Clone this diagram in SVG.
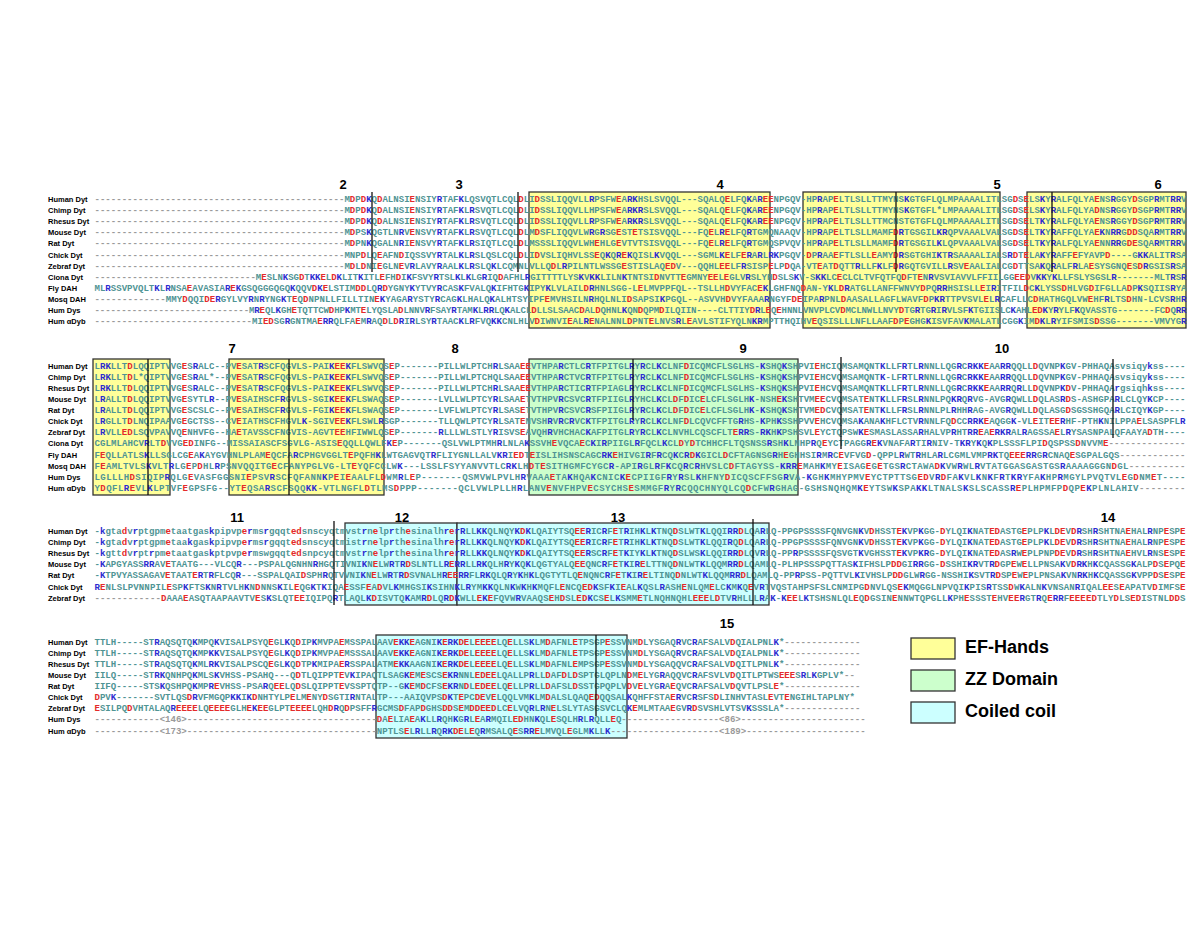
<svg xmlns="http://www.w3.org/2000/svg" width="1200" height="927" viewBox="0 0 1200 927">
<style>
.l{font-family:"Liberation Sans",Arial,sans-serif;font-weight:bold;font-size:7.5px;fill:#000}
.s{font-family:"Liberation Mono","Courier New",monospace;font-weight:bold;font-size:9.05px;fill:#4f9494}
tspan{fill:#e42a2a}
.b{fill:#2b2bd0}
.g{fill:#9a9a9a}
.n{font-family:"Liberation Sans",Arial,sans-serif;font-weight:bold;font-size:13px;text-anchor:middle;fill:#000}
.ef{fill:#ffff99;stroke:#333;stroke-width:1.3}
.zz{fill:#ccffcc;stroke:#333;stroke-width:1.3}
.cc{fill:#ccffff;stroke:#333;stroke-width:1.3}
.dv{stroke:#111;stroke-width:1.3}
.lg{font-family:"Liberation Sans",Arial,sans-serif;font-weight:bold;font-size:18px;fill:#000}
</style>
<rect width="1200" height="927" fill="#fff"/>
<g id="domains">
<rect class="ef" x="529" y="192" width="241" height="136"/>
<rect class="ef" x="803" y="192" width="197" height="136"/>
<rect class="ef" x="1027" y="192" width="159" height="136"/>
<rect class="ef" x="93" y="359" width="77" height="136"/>
<rect class="ef" x="229" y="359" width="155" height="136"/>
<rect class="zz" x="529" y="359" width="269" height="136"/>
<rect class="cc" x="345" y="523" width="112" height="82"/>
<rect class="cc" x="457" y="523" width="312" height="82"/>
<rect class="cc" x="376" y="635" width="251" height="103"/>
</g>
<g id="block1">
<text class="n" x="343" y="188.5">2</text><text class="n" x="459" y="188.5">3</text><text class="n" x="720" y="188.5">4</text><text class="n" x="997" y="188.5">5</text><text class="n" x="1158" y="188.5">6</text>
<text class="l" x="48" y="202">Human Dyt</text>
<text class="l" x="48" y="213.1">Chimp Dyt</text>
<text class="l" x="48" y="224.2">Rhesus Dyt</text>
<text class="l" x="48" y="235.3">Mouse Dyt</text>
<text class="l" x="48" y="246.4">Rat Dyt</text>
<text class="l" x="48" y="257.5">Chick Dyt</text>
<text class="l" x="48" y="268.6">Zebraf Dyt</text>
<text class="l" x="48" y="279.7">Ciona Dyt</text>
<text class="l" x="48" y="290.8">Fly DAH</text>
<text class="l" x="48" y="301.9">Mosq DAH</text>
<text class="l" x="48" y="313">Hum Dys</text>
<text class="l" x="48" y="324.1">Hum αDyb</text>
<text class="s" x="94.5" y="202" textLength="1092" lengthAdjust="spacing"><tspan class="g">----------------------------------------------</tspan>M<tspan>D</tspan>P<tspan>D</tspan><tspan class="b">K</tspan>Q<tspan>D</tspan>ALNSI<tspan>E</tspan>NSIY<tspan class="b">R</tspan>TAF<tspan class="b">K</tspan>LQSVQTLCQL<tspan>D</tspan>LI<tspan>D</tspan>SSLIQQVLL<tspan class="b">R</tspan>PSFW<tspan>E</tspan>A<tspan class="b">RK</tspan>HSLSVQQL---SQALQ<tspan>E</tspan>LFQ<tspan class="b">K</tspan>A<tspan class="b">R</tspan><tspan>EE</tspan>NPGQV-HP<tspan class="b">R</tspan>AP<tspan>E</tspan>LTLSLLTTMYNS<tspan class="b">K</tspan>GTGFLQLMPAAAALITLSG<tspan>D</tspan>S<tspan>E</tspan>LS<tspan class="b">K</tspan>Y<tspan class="b">R</tspan>ALFQLYA<tspan>E</tspan>NS<tspan class="b">R</tspan>GGY<tspan>D</tspan>SGP<tspan class="b">R</tspan>MT<tspan class="b">RR</tspan>V</text>
<text class="s" x="94.5" y="213.1" textLength="1092" lengthAdjust="spacing"><tspan class="g">----------------------------------------------</tspan>M<tspan>D</tspan>P<tspan>D</tspan><tspan class="b">K</tspan>Q<tspan>D</tspan>ALNSI<tspan>E</tspan>NSIY<tspan class="b">R</tspan>TAF<tspan class="b">K</tspan>L<tspan class="b">R</tspan>SVQTLCQL<tspan>D</tspan>LI<tspan>D</tspan>SSLIQQVLLHPSFW<tspan>E</tspan>A<tspan class="b">RKR</tspan>SLSVQQL---SQALQ<tspan>E</tspan>LFQ<tspan class="b">K</tspan>A<tspan class="b">R</tspan><tspan>EE</tspan>NPGQV-HP<tspan class="b">R</tspan>AP<tspan>E</tspan>LTLSLLTTMYNS<tspan class="b">K</tspan>GTGFL*LMPAAAALITLSG<tspan>D</tspan>S<tspan>E</tspan>LS<tspan class="b">K</tspan>Y<tspan class="b">R</tspan>ALFQLYA<tspan>D</tspan>NS<tspan class="b">R</tspan>GGY<tspan>D</tspan>SGP<tspan class="b">R</tspan>MT<tspan class="b">RR</tspan>V</text>
<text class="s" x="94.5" y="224.2" textLength="1092" lengthAdjust="spacing"><tspan class="g">----------------------------------------------</tspan>M<tspan>D</tspan>P<tspan>D</tspan><tspan class="b">K</tspan>Q<tspan>D</tspan>ALNSI<tspan>E</tspan>NSIY<tspan class="b">R</tspan>TAF<tspan class="b">K</tspan>L<tspan class="b">R</tspan>SVQTLCQL<tspan>D</tspan>LI<tspan>D</tspan>SSLIQQVLL<tspan class="b">R</tspan>PSFW<tspan>E</tspan>A<tspan class="b">RKR</tspan>SLSVQQL---SQALQ<tspan>E</tspan>LFQ<tspan class="b">K</tspan>A<tspan class="b">R</tspan><tspan>EE</tspan>NPGQV-HP<tspan class="b">R</tspan>AP<tspan>E</tspan>LTLSLLTTMCNSTGTGFLQLMPAAAALITLSG<tspan>D</tspan>S<tspan>E</tspan>LT<tspan class="b">K</tspan>Y<tspan class="b">R</tspan>ALFQLYA<tspan>E</tspan>NS<tspan class="b">R</tspan>GGY<tspan>D</tspan>SGP<tspan class="b">R</tspan>MT<tspan class="b">RR</tspan>V</text>
<text class="s" x="94.5" y="235.3" textLength="1092" lengthAdjust="spacing"><tspan class="g">----------------------------------------------</tspan>M<tspan>D</tspan>PS<tspan class="b">K</tspan>QGTLN<tspan class="b">R</tspan>V<tspan>E</tspan>NSVY<tspan class="b">R</tspan>TAF<tspan class="b">K</tspan>L<tspan class="b">R</tspan>SVQTLCQL<tspan>D</tspan>LM<tspan>D</tspan>SFLIQQVLW<tspan class="b">R</tspan>G<tspan class="b">R</tspan>SG<tspan>E</tspan>ST<tspan>E</tspan>TSISVQQL---FQ<tspan>E</tspan>L<tspan class="b">R</tspan><tspan>E</tspan>LFQ<tspan class="b">R</tspan>TGMQNAAQV-HP<tspan class="b">R</tspan>AP<tspan>E</tspan>LTLSLLMAMF<tspan>D</tspan><tspan class="b">R</tspan>TGSGIL<tspan class="b">KR</tspan>QPVAAALVALSG<tspan>D</tspan>S<tspan>E</tspan>LT<tspan class="b">K</tspan>Y<tspan class="b">R</tspan>AFFQLYA<tspan>E</tspan><tspan class="b">K</tspan>N<tspan class="b">RR</tspan>G<tspan>DD</tspan>SQA<tspan class="b">R</tspan>MT<tspan class="b">RR</tspan>V</text>
<text class="s" x="94.5" y="246.4" textLength="1092" lengthAdjust="spacing"><tspan class="g">----------------------------------------------</tspan>M<tspan>D</tspan>PN<tspan class="b">K</tspan>QGALN<tspan class="b">R</tspan>I<tspan>E</tspan>NSVY<tspan class="b">R</tspan>TAF<tspan class="b">K</tspan>L<tspan class="b">R</tspan>SIQTLCQL<tspan>D</tspan>LMSSSLIQQVLWH<tspan>E</tspan>HLG<tspan>E</tspan>VTVTSISVQQL---FQ<tspan>E</tspan>L<tspan class="b">R</tspan><tspan>E</tspan>LFQ<tspan class="b">R</tspan>TGMQSPVQV-HP<tspan class="b">R</tspan>AP<tspan>E</tspan>LTLSLLMAMF<tspan>D</tspan><tspan class="b">R</tspan>TGSGIL<tspan class="b">K</tspan>LQPVAAALVALSG<tspan>D</tspan>S<tspan>E</tspan>LT<tspan class="b">K</tspan>Y<tspan class="b">R</tspan>ALFQLYA<tspan>E</tspan>NN<tspan class="b">RR</tspan>G<tspan>DE</tspan>SQA<tspan class="b">R</tspan>MT<tspan class="b">RR</tspan>V</text>
<text class="s" x="94.5" y="257.5" textLength="1092" lengthAdjust="spacing"><tspan class="g">----------------------------------------------</tspan>MNP<tspan>D</tspan>LQ<tspan>E</tspan>AFN<tspan>D</tspan>IQSSVY<tspan class="b">R</tspan>TAL<tspan class="b">K</tspan>L<tspan class="b">R</tspan>SLQSLCQL<tspan>D</tspan>LI<tspan>D</tspan>VSLIQHVLSS<tspan>E</tspan>Q<tspan class="b">K</tspan>Q<tspan class="b">R</tspan><tspan>E</tspan><tspan class="b">K</tspan>QISL<tspan class="b">K</tspan>VQQL---SGML<tspan class="b">K</tspan><tspan>E</tspan>LF<tspan>E</tspan><tspan class="b">R</tspan>A<tspan class="b">R</tspan>L<tspan class="b">RK</tspan>PGQV-<tspan>D</tspan>P<tspan class="b">R</tspan>AA<tspan>E</tspan>FTLSLL<tspan>E</tspan>AMY<tspan>D</tspan><tspan class="b">R</tspan>SGTGHI<tspan class="b">K</tspan>T<tspan class="b">R</tspan>SAAAALIALS<tspan class="b">R</tspan><tspan>D</tspan>T<tspan>E</tspan>LA<tspan class="b">K</tspan>Y<tspan class="b">R</tspan>AFF<tspan>E</tspan>FYAVP<tspan>D</tspan>----G<tspan class="b">KK</tspan>ALIT<tspan class="b">R</tspan>SA</text>
<text class="s" x="94.5" y="268.6" textLength="1092" lengthAdjust="spacing"><tspan class="g">----------------------------------------------</tspan>M<tspan>D</tspan>L<tspan>D</tspan>NI<tspan>E</tspan>GLN<tspan>E</tspan>V<tspan class="b">R</tspan>LAVY<tspan class="b">R</tspan>AAL<tspan class="b">K</tspan>L<tspan class="b">R</tspan>SLQ<tspan class="b">K</tspan>LCQMNLVLLQ<tspan>D</tspan>L<tspan class="b">R</tspan>PILNTLWSSG<tspan>E</tspan>STISLAQ<tspan>ED</tspan>V---QQHL<tspan>EE</tspan>LF<tspan class="b">R</tspan>SISP<tspan>E</tspan>LP<tspan>D</tspan>QA-VT<tspan>E</tspan>AT<tspan>D</tspan>QTT<tspan class="b">R</tspan>LLF<tspan class="b">K</tspan>LF<tspan>D</tspan><tspan class="b">R</tspan>GQTGVILL<tspan class="b">R</tspan>SV<tspan>E</tspan>AALIALCG<tspan>D</tspan>TTSA<tspan class="b">K</tspan>Q<tspan class="b">R</tspan>ALF<tspan class="b">R</tspan>LA<tspan>E</tspan>SYSGNQ<tspan>E</tspan>S<tspan>D</tspan><tspan class="b">R</tspan>GSIS<tspan class="b">R</tspan>SA</text>
<text class="s" x="94.5" y="279.7" textLength="1092" lengthAdjust="spacing"><tspan class="g">------------------------------</tspan>M<tspan>E</tspan>SLN<tspan class="b">K</tspan>SG<tspan>D</tspan>T<tspan class="b">KK</tspan><tspan>E</tspan>L<tspan>D</tspan><tspan class="b">K</tspan>LIT<tspan class="b">K</tspan>ITL<tspan>E</tspan>FH<tspan>D</tspan>I<tspan class="b">K</tspan>FSVY<tspan class="b">R</tspan>TSL<tspan class="b">K</tspan>L<tspan class="b">K</tspan>LG<tspan class="b">R</tspan>IQ<tspan>D</tspan>AFHL<tspan class="b">R</tspan>GITTTTLYS<tspan class="b">K</tspan>V<tspan class="b">KK</tspan>LILN<tspan class="b">K</tspan>TNTSI<tspan>D</tspan>NVTT<tspan>E</tspan>GMNY<tspan>EE</tspan>L<tspan>E</tspan>GLV<tspan class="b">R</tspan>SLYH<tspan>D</tspan>SLS<tspan class="b">K</tspan>V-S<tspan class="b">KK</tspan>LC<tspan>E</tspan>CLCLTVFQTFQ<tspan>D</tspan>FT<tspan>E</tspan>N<tspan class="b">R</tspan>VSVIAVVLFFIILGG<tspan>EED</tspan>V<tspan class="b">KK</tspan>Y<tspan class="b">K</tspan>LLFSLYSGSL<tspan class="b">R</tspan>-------MLT<tspan class="b">R</tspan>S<tspan class="b">R</tspan></text>
<text class="s" x="94.5" y="290.8" textLength="1092" lengthAdjust="spacing">ML<tspan class="b">R</tspan>SSVPVQLT<tspan class="b">K</tspan>L<tspan class="b">R</tspan>NSA<tspan>E</tspan>AVASIA<tspan class="b">R</tspan><tspan>E</tspan><tspan class="b">K</tspan>GSQGGGQGQ<tspan class="b">K</tspan>QQV<tspan>D</tspan><tspan class="b">K</tspan><tspan>E</tspan>LSTIM<tspan>DD</tspan>LQ<tspan class="b">R</tspan><tspan>D</tspan>YGNY<tspan class="b">K</tspan>YTVY<tspan class="b">R</tspan>CAS<tspan class="b">K</tspan>FVALQ<tspan class="b">K</tspan>IFHTG<tspan class="b">K</tspan>IPY<tspan class="b">K</tspan>LVLAIL<tspan>D</tspan><tspan class="b">R</tspan>HNLSGG-L<tspan>E</tspan>LMVPPFQL--TSLLH<tspan>D</tspan>VYFAC<tspan>E</tspan><tspan class="b">K</tspan>LGHFNQ<tspan>D</tspan>AN-Y<tspan class="b">K</tspan>L<tspan>D</tspan><tspan class="b">R</tspan>ATGLLANFFWNVY<tspan>D</tspan>PQ<tspan class="b">RR</tspan>HSISLL<tspan>E</tspan>I<tspan class="b">R</tspan>ITFIL<tspan>D</tspan>C<tspan class="b">K</tspan>LYSS<tspan>D</tspan>HLVG<tspan>D</tspan>IFGLLA<tspan>D</tspan>P<tspan class="b">K</tspan>SQIIS<tspan class="b">R</tspan>YA</text>
<text class="s" x="94.5" y="301.9" textLength="1092" lengthAdjust="spacing"><tspan class="g">-------------</tspan>MMY<tspan>D</tspan>QQI<tspan>DE</tspan><tspan class="b">R</tspan>GYLVY<tspan class="b">R</tspan>N<tspan class="b">R</tspan>YNG<tspan class="b">K</tspan>T<tspan>E</tspan>Q<tspan>D</tspan>NPNLLFILLTIN<tspan>E</tspan><tspan class="b">K</tspan>YAGA<tspan class="b">R</tspan>YSTY<tspan class="b">R</tspan>CAG<tspan class="b">K</tspan>LHALQ<tspan class="b">K</tspan>ALHTSYIPF<tspan>E</tspan>MVHSILN<tspan class="b">R</tspan>HQLNLI<tspan>D</tspan>SAPSI<tspan class="b">K</tspan>PGQL--ASVVH<tspan>D</tspan>VYFAAA<tspan class="b">R</tspan>NGYF<tspan>DE</tspan>IPA<tspan class="b">R</tspan>PNL<tspan>D</tspan>AASALLAGFLWAVF<tspan>D</tspan>P<tspan class="b">KR</tspan>TTPVSVL<tspan>E</tspan>L<tspan class="b">R</tspan>CAFLLC<tspan>D</tspan>HATHGQLVW<tspan>E</tspan>HF<tspan class="b">R</tspan>LTS<tspan>D</tspan>HN-LCVS<tspan class="b">R</tspan>H<tspan class="b">R</tspan></text>
<text class="s" x="94.5" y="313" textLength="1092" lengthAdjust="spacing"><tspan class="g">-----------------------------</tspan>M<tspan class="b">R</tspan><tspan>E</tspan>QL<tspan class="b">K</tspan>GH<tspan>E</tspan>TQTTCW<tspan>D</tspan>HP<tspan class="b">K</tspan>MT<tspan>E</tspan>LYQSLA<tspan>D</tspan>LNNV<tspan class="b">R</tspan>FSAY<tspan class="b">R</tspan>TAM<tspan class="b">K</tspan>L<tspan class="b">RR</tspan>LQ<tspan class="b">K</tspan>ALCL<tspan>D</tspan>LLSLSAAC<tspan>D</tspan>AL<tspan>D</tspan>QHNL<tspan class="b">K</tspan>QN<tspan>D</tspan>QPM<tspan>D</tspan>ILQIIN----CLTTIY<tspan>D</tspan><tspan class="b">R</tspan>L<tspan>E</tspan>Q<tspan>E</tspan>HNNLVNVPLCV<tspan>D</tspan>MCLNWLLNVY<tspan>D</tspan>TG<tspan class="b">R</tspan>TG<tspan class="b">R</tspan>I<tspan class="b">R</tspan>VLSF<tspan class="b">K</tspan>TGIISLC<tspan class="b">K</tspan>AHL<tspan>ED</tspan><tspan class="b">K</tspan>Y<tspan class="b">R</tspan>YLF<tspan class="b">K</tspan>QVASSTG-------FC<tspan>D</tspan>Q<tspan class="b">RR</tspan></text>
<text class="s" x="94.5" y="324.1" textLength="1092" lengthAdjust="spacing"><tspan class="g">-----------------------------</tspan>MI<tspan>ED</tspan>SG<tspan class="b">R</tspan>GNTMA<tspan>E</tspan><tspan class="b">RR</tspan>QLFA<tspan>E</tspan>M<tspan class="b">R</tspan>AQ<tspan>D</tspan>L<tspan>D</tspan><tspan class="b">R</tspan>I<tspan class="b">R</tspan>LSY<tspan class="b">R</tspan>TAAC<tspan class="b">K</tspan>L<tspan class="b">R</tspan>FVQ<tspan class="b">KK</tspan>CNLHLV<tspan>D</tspan>IWNVI<tspan>E</tspan>AL<tspan class="b">R</tspan><tspan>E</tspan>NALNNL<tspan>D</tspan>PNT<tspan>E</tspan>LNVS<tspan class="b">R</tspan>L<tspan>E</tspan>AVLSTIFYQLN<tspan class="b">KR</tspan>MPTTHQIHV<tspan>E</tspan>QSISLLLNFLLAAF<tspan>D</tspan>P<tspan>E</tspan>GHG<tspan class="b">K</tspan>ISVFAV<tspan class="b">K</tspan>MALATLCGG<tspan class="b">K</tspan>IM<tspan>D</tspan><tspan class="b">K</tspan>L<tspan class="b">R</tspan>YIFSMIS<tspan>D</tspan>SSG-------VMVYG<tspan class="b">R</tspan></text>
</g>
<g id="block2">
<text class="n" x="232" y="352.5">7</text><text class="n" x="455" y="352.5">8</text><text class="n" x="743" y="352.5">9</text><text class="n" x="1002" y="352.5">10</text>
<text class="l" x="48" y="368.7">Human Dyt</text>
<text class="l" x="48" y="379.8">Chimp Dyt</text>
<text class="l" x="48" y="390.9">Rhesus Dyt</text>
<text class="l" x="48" y="402">Mouse Dyt</text>
<text class="l" x="48" y="413.1">Rat Dyt</text>
<text class="l" x="48" y="424.2">Chick Dyt</text>
<text class="l" x="48" y="435.3">Zebraf Dyt</text>
<text class="l" x="48" y="446.4">Ciona Dyt</text>
<text class="l" x="48" y="457.5">Fly DAH</text>
<text class="l" x="48" y="468.6">Mosq DAH</text>
<text class="l" x="48" y="479.7">Hum Dys</text>
<text class="l" x="48" y="490.8">Hum αDyb</text>
<text class="s" x="94.5" y="368.7" textLength="1091" lengthAdjust="spacing">L<tspan class="b">RK</tspan>LLT<tspan>D</tspan>LQQIPTVVG<tspan>E</tspan>S<tspan class="b">R</tspan>ALC--PV<tspan>E</tspan>SAT<tspan class="b">R</tspan>SCFQGVLS-PAI<tspan class="b">K</tspan><tspan>EE</tspan><tspan class="b">K</tspan>FLSWVQS<tspan>E</tspan>P-------PILLWLPTCH<tspan class="b">R</tspan>LSAA<tspan>EE</tspan>VTHPA<tspan class="b">R</tspan>CTLC<tspan class="b">R</tspan>TFPITGL<tspan class="b">R</tspan>Y<tspan class="b">R</tspan>CL<tspan class="b">K</tspan>CLNF<tspan>D</tspan>ICQMCFLSGLHS-<tspan class="b">K</tspan>SHQ<tspan class="b">K</tspan>SHPVI<tspan>E</tspan>HCIQMSAMQNT<tspan class="b">K</tspan>LLF<tspan class="b">R</tspan>TL<tspan class="b">R</tspan>NNLLQG<tspan class="b">R</tspan>C<tspan class="b">RKK</tspan><tspan>E</tspan>AA<tspan class="b">RR</tspan>QQLL<tspan>D</tspan>QVNP<tspan class="b">K</tspan>GV-PHHAQAsvsiqy<tspan class="b">k</tspan>ss----</text>
<text class="s" x="94.5" y="379.8" textLength="1091" lengthAdjust="spacing">L<tspan class="b">RK</tspan>LLT<tspan>D</tspan>L*QIPTVVG<tspan>E</tspan>S<tspan class="b">R</tspan>AL*--PV<tspan>E</tspan>SAT<tspan class="b">R</tspan>SCFQGVLS-PAI<tspan class="b">K</tspan><tspan>EE</tspan><tspan class="b">K</tspan>FLSWVQS<tspan>E</tspan>P-------PILLWLPTCHQLSAA<tspan>EE</tspan>VTHPA<tspan class="b">R</tspan>CTVC<tspan class="b">R</tspan>TFPITGL<tspan class="b">R</tspan>Y<tspan class="b">R</tspan>CL<tspan class="b">K</tspan>CLNF<tspan>D</tspan>ICQMCFLSGLHS-<tspan class="b">K</tspan>SHQ<tspan class="b">K</tspan>SHPVI<tspan>E</tspan>HCVQMSAMQNT<tspan class="b">K</tspan>-LF<tspan class="b">R</tspan>TL<tspan class="b">R</tspan>NNLLQG<tspan class="b">R</tspan>C<tspan class="b">RKK</tspan><tspan>E</tspan>AA<tspan class="b">RR</tspan>QQLL<tspan>D</tspan>QVNP<tspan class="b">K</tspan>GV-PHHAQAsvsiqy<tspan class="b">k</tspan>ss----</text>
<text class="s" x="94.5" y="390.9" textLength="1091" lengthAdjust="spacing">L<tspan class="b">RK</tspan>LLT<tspan>D</tspan>LQQIPTVVG<tspan>E</tspan>S<tspan class="b">R</tspan>ALC--PV<tspan>E</tspan>SAT<tspan class="b">R</tspan>SCFQGVLS-PAI<tspan class="b">K</tspan><tspan>EE</tspan><tspan class="b">K</tspan>FLSWVQS<tspan>E</tspan>P-------PILLWLPTCH<tspan class="b">R</tspan>LSAA<tspan>EE</tspan>VTHPA<tspan class="b">R</tspan>CTIC<tspan class="b">R</tspan>TFPIAGL<tspan class="b">R</tspan>Y<tspan class="b">R</tspan>CL<tspan class="b">K</tspan>CLNF<tspan>D</tspan>ICQMCFLSGLHS-<tspan class="b">K</tspan>SHQ<tspan class="b">K</tspan>SHPVI<tspan>E</tspan>HCVQMSAMQNT<tspan class="b">K</tspan>LLF<tspan class="b">R</tspan>TL<tspan class="b">R</tspan>NNLLQG<tspan class="b">R</tspan>C<tspan class="b">RKK</tspan><tspan>E</tspan>AA<tspan class="b">RR</tspan>Q<tspan class="b">R</tspan>LL<tspan>D</tspan>QVNP<tspan class="b">K</tspan><tspan>D</tspan>V-PHHAQA<tspan class="b">r</tspan>gsiqh<tspan class="b">k</tspan>ss----</text>
<text class="s" x="94.5" y="402" textLength="1091" lengthAdjust="spacing">L<tspan class="b">R</tspan>ALLT<tspan>D</tspan>LQQIPTVVG<tspan>E</tspan>SYTL<tspan class="b">R</tspan>--PV<tspan>E</tspan>SAIHSCF<tspan class="b">R</tspan>GVLS-SGI<tspan class="b">K</tspan><tspan>EE</tspan><tspan class="b">K</tspan>FLSWAQS<tspan>E</tspan>P-------LVLLWLPTCY<tspan class="b">R</tspan>LSAA<tspan>E</tspan>TVTHPV<tspan class="b">R</tspan>CSVC<tspan class="b">R</tspan>TFPIIGL<tspan class="b">R</tspan>YHCL<tspan class="b">K</tspan>CL<tspan>D</tspan>F<tspan>D</tspan>IC<tspan>E</tspan>LCFLSGLH<tspan class="b">K</tspan>-NSH<tspan>E</tspan><tspan class="b">K</tspan>SHTVM<tspan>EE</tspan>CVQMSAT<tspan>E</tspan>NT<tspan class="b">K</tspan>LLF<tspan class="b">R</tspan>SL<tspan class="b">R</tspan>NNLPQ<tspan class="b">KR</tspan>Q<tspan class="b">R</tspan>VG-AVG<tspan class="b">R</tspan>QWLL<tspan>D</tspan>QLAS<tspan class="b">R</tspan><tspan>D</tspan>S-ASHGPA<tspan class="b">R</tspan>LCLQY<tspan class="b">K</tspan>CP----</text>
<text class="s" x="94.5" y="413.1" textLength="1091" lengthAdjust="spacing">L<tspan class="b">R</tspan>ALLT<tspan>D</tspan>LQQIPTVVG<tspan>E</tspan>SCSLC--PV<tspan>E</tspan>SAIHSCF<tspan class="b">R</tspan>GVLS-FGI<tspan class="b">K</tspan><tspan>EE</tspan><tspan class="b">K</tspan>FLSWAQS<tspan>E</tspan>P-------LVFLWLPTCY<tspan class="b">R</tspan>LSAS<tspan>E</tspan>TVTHPV<tspan class="b">R</tspan>CSVC<tspan class="b">R</tspan>SFPIIGL<tspan class="b">R</tspan>Y<tspan class="b">R</tspan>CL<tspan class="b">K</tspan>CL<tspan>D</tspan>F<tspan>D</tspan>IC<tspan>E</tspan>LCFLSGLH<tspan class="b">K</tspan>-<tspan class="b">K</tspan>SHQ<tspan class="b">K</tspan>SHTVM<tspan>ED</tspan>CVQMSAT<tspan>E</tspan>NT<tspan class="b">K</tspan>LLF<tspan class="b">R</tspan>SL<tspan class="b">R</tspan>NNLPL<tspan class="b">R</tspan>HH<tspan class="b">R</tspan>AG-AVG<tspan class="b">R</tspan>QWLL<tspan>D</tspan>QLASG<tspan>D</tspan>SGSSHGQA<tspan class="b">R</tspan>LCIQY<tspan class="b">K</tspan>GP----</text>
<text class="s" x="94.5" y="424.2" textLength="1091" lengthAdjust="spacing">L<tspan class="b">R</tspan>GLLT<tspan>D</tspan>LNQIPAAVG<tspan>E</tspan>GCTSS--CV<tspan>E</tspan>IATHSCFHGVL<tspan class="b">K</tspan>-SGIV<tspan>EE</tspan><tspan class="b">K</tspan>FLSWL<tspan class="b">R</tspan>SGP-------TLLQWLPTCY<tspan class="b">R</tspan>LSAT<tspan>E</tspan>NVSH<tspan class="b">R</tspan>V<tspan class="b">R</tspan>C<tspan class="b">R</tspan>VC<tspan class="b">K</tspan>TFPITGL<tspan class="b">R</tspan>Y<tspan class="b">R</tspan>CL<tspan class="b">K</tspan>CLNF<tspan>D</tspan>LCQVCFFTG<tspan class="b">R</tspan>HS-<tspan class="b">K</tspan>PH<tspan class="b">K</tspan>SSHPVV<tspan>E</tspan>HCVQMSA<tspan class="b">K</tspan>ANA<tspan class="b">K</tspan>HFLCTV<tspan class="b">R</tspan>NNLFQ<tspan>D</tspan>CC<tspan class="b">RRK</tspan><tspan>E</tspan>AQGG<tspan class="b">K</tspan>-VL<tspan>E</tspan>IT<tspan>EE</tspan><tspan class="b">R</tspan>HF-PTH<tspan class="b">K</tspan>NILPPA<tspan>E</tspan>LSASPFL<tspan class="b">R</tspan></text>
<text class="s" x="94.5" y="435.3" textLength="1091" lengthAdjust="spacing">L<tspan class="b">R</tspan>VLL<tspan>ED</tspan>LSQVPAVVQ<tspan>E</tspan>NHVFG--HA<tspan>E</tspan>TAVSSCFNGVIS-AGVT<tspan>EE</tspan>HFIWWLQS<tspan>E</tspan>P-------<tspan class="b">R</tspan>LLLWLSTLY<tspan class="b">R</tspan>ISVS<tspan>E</tspan>AVQH<tspan class="b">R</tspan>VHCHAC<tspan class="b">K</tspan>AFPITGL<tspan class="b">R</tspan>Y<tspan class="b">R</tspan>CL<tspan class="b">K</tspan>CLNVHLCQSCFLT<tspan>E</tspan><tspan class="b">RR</tspan>S-<tspan class="b">RK</tspan>H<tspan class="b">K</tspan>PSHSVL<tspan>E</tspan>YCTQPSW<tspan class="b">K</tspan><tspan>E</tspan>SMASLASSA<tspan class="b">R</tspan>HALVP<tspan class="b">R</tspan>HT<tspan class="b">RR</tspan><tspan>E</tspan>A<tspan>E</tspan><tspan class="b">RKR</tspan>AL<tspan class="b">R</tspan>AGSSA<tspan>E</tspan>L<tspan class="b">R</tspan>YSASNPALQFAAYA<tspan>D</tspan>TH----</text>
<text class="s" x="94.5" y="446.4" textLength="1091" lengthAdjust="spacing">CGLMLAHCV<tspan class="b">R</tspan>LT<tspan>D</tspan>VVG<tspan>ED</tspan>INFG--MISSAIASCFSGVLG-ASIS<tspan>E</tspan>QQLLQWLF<tspan class="b">K</tspan><tspan>E</tspan>P-------QSLVWLPTMH<tspan class="b">R</tspan>LNLA<tspan class="b">K</tspan>SSVH<tspan>E</tspan>VQCA<tspan>E</tspan>C<tspan class="b">K</tspan>I<tspan class="b">R</tspan>PIIGL<tspan class="b">R</tspan>FQCL<tspan class="b">K</tspan>CL<tspan>D</tspan>Y<tspan>D</tspan>TCHHCFLTQSNSS<tspan class="b">R</tspan>SH<tspan class="b">K</tspan>LNHP<tspan class="b">R</tspan>Q<tspan>E</tspan>YCTPAGG<tspan class="b">R</tspan><tspan>E</tspan><tspan class="b">K</tspan>VNAFA<tspan class="b">R</tspan>TI<tspan class="b">R</tspan>NIV-T<tspan class="b">KR</tspan>Y<tspan class="b">K</tspan>Q<tspan class="b">K</tspan>PLSSSFLPI<tspan>D</tspan>QSPSS<tspan>D</tspan>NVVM<tspan>E</tspan><tspan class="g">--------------</tspan></text>
<text class="s" x="94.5" y="457.5" textLength="1091" lengthAdjust="spacing">F<tspan>E</tspan>QLLATLS<tspan class="b">K</tspan>LLSGLCG<tspan>E</tspan>A<tspan class="b">K</tspan>AYGVHNLPLAM<tspan>E</tspan>QCFA<tspan class="b">R</tspan>CPHGVGGLT<tspan>E</tspan>PQFH<tspan class="b">K</tspan>LWTGAGVQT<tspan class="b">R</tspan>FLIYGNLLALV<tspan class="b">KR</tspan>I<tspan>ED</tspan>T<tspan>E</tspan>ISLIHSNSCAGC<tspan class="b">RK</tspan><tspan>E</tspan>HIVGI<tspan class="b">R</tspan>F<tspan class="b">R</tspan>CQ<tspan class="b">K</tspan>C<tspan class="b">R</tspan><tspan>D</tspan><tspan class="b">K</tspan>GICL<tspan>D</tspan>CFTAGNSG<tspan class="b">R</tspan>H<tspan>E</tspan>GHHSI<tspan class="b">R</tspan>M<tspan class="b">R</tspan>C<tspan>E</tspan>VFVG<tspan>D</tspan>-QPPL<tspan class="b">R</tspan>WT<tspan class="b">R</tspan>HLA<tspan class="b">R</tspan>LCGMLVMP<tspan class="b">RK</tspan>TQ<tspan>EEE</tspan><tspan class="b">RR</tspan>G<tspan class="b">R</tspan>CNAQ<tspan>E</tspan>SGPALGQS<tspan class="g">------------</tspan></text>
<text class="s" x="94.5" y="468.6" textLength="1091" lengthAdjust="spacing">F<tspan>E</tspan>AMLTVLS<tspan class="b">K</tspan>VLT<tspan class="b">R</tspan>LG<tspan>E</tspan>P<tspan>D</tspan>HL<tspan class="b">R</tspan>PSNVQQITG<tspan>E</tspan>CFANYPGLVG-LT<tspan>E</tspan>YQFCCLW<tspan class="b">K</tspan>---LSSLFSYYANVVTLC<tspan class="b">RK</tspan>LH<tspan>D</tspan>T<tspan>E</tspan>SITHGMFCYGC<tspan class="b">R</tspan>-API<tspan class="b">R</tspan>GL<tspan class="b">R</tspan>F<tspan class="b">K</tspan>CQ<tspan class="b">R</tspan>C<tspan class="b">R</tspan>HVSLC<tspan>D</tspan>FTAGYSS-<tspan class="b">KRR</tspan><tspan>E</tspan>MAH<tspan class="b">K</tspan>MY<tspan>E</tspan>ISAG<tspan>E</tspan>G<tspan>E</tspan>TGS<tspan class="b">R</tspan>CTAWA<tspan>D</tspan><tspan class="b">K</tspan>VW<tspan class="b">R</tspan>WL<tspan class="b">R</tspan>VTATGGASGASTGS<tspan class="b">R</tspan>AAAAGGGN<tspan>D</tspan>GL<tspan class="g">----------</tspan></text>
<text class="s" x="94.5" y="479.7" textLength="1091" lengthAdjust="spacing">LGLLLH<tspan>D</tspan>SIQIP<tspan class="b">R</tspan>QLG<tspan>E</tspan>VASFGGSNI<tspan>E</tspan>PSV<tspan class="b">R</tspan>SCFQFANN<tspan class="b">K</tspan>P<tspan>E</tspan>I<tspan>E</tspan>AALFL<tspan>D</tspan>WM<tspan class="b">R</tspan>L<tspan>E</tspan>P-------QSMVWLPVLH<tspan class="b">R</tspan>VAAA<tspan>E</tspan>TA<tspan class="b">K</tspan>HQA<tspan class="b">K</tspan>CNIC<tspan class="b">K</tspan><tspan>E</tspan>CPIIGF<tspan class="b">R</tspan>Y<tspan class="b">R</tspan>SL<tspan class="b">K</tspan>HFNY<tspan>D</tspan>ICQSCFFSG<tspan class="b">R</tspan>VA-<tspan class="b">K</tspan>GH<tspan class="b">K</tspan>MHYPMV<tspan>E</tspan>YCTPTTSG<tspan>ED</tspan>V<tspan class="b">R</tspan><tspan>D</tspan>FA<tspan class="b">K</tspan>VL<tspan class="b">K</tspan>N<tspan class="b">K</tspan>F<tspan class="b">R</tspan>T<tspan class="b">KR</tspan>YFA<tspan class="b">K</tspan>HP<tspan class="b">R</tspan>MGYLPVQTVL<tspan>E</tspan>G<tspan>D</tspan>NM<tspan>E</tspan>T----</text>
<text class="s" x="94.5" y="490.8" textLength="1091" lengthAdjust="spacing">Y<tspan>D</tspan>QFL<tspan class="b">R</tspan><tspan>E</tspan>VL<tspan class="b">K</tspan>LPTVF<tspan>E</tspan>GPSFG--YT<tspan>E</tspan>QSA<tspan class="b">R</tspan>SCFSQQ<tspan class="b">KK</tspan>-VTLNGFL<tspan>D</tspan>TLMS<tspan>D</tspan>PPP-------QCLVWLPLLH<tspan class="b">R</tspan>LANV<tspan>E</tspan>NVFHPV<tspan>E</tspan>CSYCHS<tspan>E</tspan>SMMGF<tspan class="b">R</tspan>Y<tspan class="b">R</tspan>CQQCHNYQLCQ<tspan>D</tspan>CFW<tspan class="b">R</tspan>GHAG-GSHSNQHQM<tspan class="b">K</tspan><tspan>E</tspan>YTSW<tspan class="b">K</tspan>SPA<tspan class="b">KK</tspan>LTNALS<tspan class="b">K</tspan>SLSCASS<tspan class="b">R</tspan><tspan>E</tspan>PLHPMFP<tspan>D</tspan>QP<tspan>E</tspan><tspan class="b">K</tspan>PLNLAHIV<tspan class="g">--------</tspan></text>
</g>
<g id="block3">
<text class="n" x="237" y="521.5">11</text><text class="n" x="402" y="521.5">12</text><text class="n" x="618" y="521.5">13</text><text class="n" x="1108" y="521.5">14</text>
<text class="l" x="48" y="534">Human Dyt</text>
<text class="l" x="48" y="545.1">Chimp Dyt</text>
<text class="l" x="48" y="556.2">Rhesus Dyt</text>
<text class="l" x="48" y="567.3">Mouse Dyt</text>
<text class="l" x="48" y="578.4">Rat Dyt</text>
<text class="l" x="48" y="589.5">Chick Dyt</text>
<text class="l" x="48" y="600.6">Zebraf Dyt</text>
<text class="s" x="94.5" y="534" textLength="1091" lengthAdjust="spacing">-<tspan class="b">k</tspan>gta<tspan>d</tspan>v<tspan class="b">r</tspan>ptgpm<tspan>e</tspan>taatgas<tspan class="b">k</tspan>pipvp<tspan>e</tspan><tspan class="b">r</tspan>ms<tspan class="b">r</tspan>gqqt<tspan>ed</tspan>snscyqtmvst<tspan class="b">r</tspan>n<tspan>e</tspan>lp<tspan class="b">r</tspan>th<tspan>e</tspan>sinalh<tspan class="b">r</tspan><tspan>e</tspan><tspan class="b">rR</tspan>LL<tspan class="b">KK</tspan>QLNQY<tspan class="b">K</tspan><tspan>D</tspan><tspan class="b">K</tspan>LQAIYTSQ<tspan>EE</tspan><tspan class="b">R</tspan>IC<tspan class="b">R</tspan>F<tspan>E</tspan>T<tspan class="b">R</tspan>IH<tspan class="b">K</tspan>L<tspan class="b">K</tspan>TNQ<tspan>D</tspan>SLWT<tspan class="b">K</tspan>LQQI<tspan class="b">RR</tspan><tspan>D</tspan>LQA<tspan class="b">R</tspan>LQ-PPGPSSSSFQNVGN<tspan class="b">K</tspan>V<tspan>D</tspan>HSST<tspan>E</tspan><tspan class="b">K</tspan>VP<tspan class="b">K</tspan>GG-<tspan>D</tspan>YLQI<tspan class="b">K</tspan>NAT<tspan>ED</tspan>ASTG<tspan>E</tspan>PLP<tspan class="b">K</tspan>L<tspan>DE</tspan>V<tspan>D</tspan><tspan class="b">R</tspan>SH<tspan class="b">R</tspan>SHTNA<tspan>E</tspan>HAL<tspan class="b">R</tspan>NP<tspan>E</tspan>SP<tspan>E</tspan></text>
<text class="s" x="94.5" y="545.1" textLength="1091" lengthAdjust="spacing">-<tspan class="b">k</tspan>gta<tspan>d</tspan>v<tspan class="b">r</tspan>ptgpm<tspan>e</tspan>taa<tspan class="b">k</tspan>gas<tspan class="b">k</tspan>pipvp<tspan>e</tspan><tspan class="b">r</tspan>ms<tspan class="b">r</tspan>gqqt<tspan>ed</tspan>snscyqtmist<tspan class="b">r</tspan>n<tspan>e</tspan>lp<tspan class="b">r</tspan>th<tspan>e</tspan>sinalh<tspan class="b">r</tspan><tspan>e</tspan><tspan class="b">rR</tspan>LL<tspan class="b">KK</tspan>QLNQY<tspan class="b">K</tspan><tspan>D</tspan><tspan class="b">K</tspan>LQAIYTSQ<tspan>EE</tspan><tspan class="b">R</tspan>IC<tspan class="b">R</tspan>F<tspan>E</tspan>T<tspan class="b">R</tspan>IH<tspan class="b">K</tspan>L<tspan class="b">K</tspan>TNQ<tspan>D</tspan>SLWT<tspan class="b">K</tspan>LQQI<tspan class="b">R</tspan>Q<tspan>D</tspan>LQA<tspan class="b">R</tspan>LQ-PPGPSSSSFQNVGN<tspan class="b">K</tspan>V<tspan>D</tspan>HSST<tspan>E</tspan><tspan class="b">K</tspan>VP<tspan class="b">K</tspan>GG-<tspan>D</tspan>YLQI<tspan class="b">K</tspan>NAT<tspan>ED</tspan>ASTG<tspan>E</tspan>PLP<tspan class="b">K</tspan>L<tspan>DE</tspan>V<tspan>D</tspan><tspan class="b">R</tspan>SH<tspan class="b">R</tspan>SHTNA<tspan>E</tspan>HAL<tspan class="b">R</tspan>NP<tspan>E</tspan>SP<tspan>E</tspan></text>
<text class="s" x="94.5" y="556.2" textLength="1091" lengthAdjust="spacing">-<tspan class="b">k</tspan>gtt<tspan>d</tspan>v<tspan class="b">r</tspan>pt<tspan class="b">r</tspan>pm<tspan>e</tspan>taatgas<tspan class="b">k</tspan>ptpvp<tspan>e</tspan><tspan class="b">r</tspan>mswgqqt<tspan>ed</tspan>snpcyqtmvst<tspan class="b">r</tspan>n<tspan>e</tspan>lp<tspan class="b">r</tspan>th<tspan>e</tspan>sinalh<tspan class="b">r</tspan><tspan>e</tspan><tspan class="b">rR</tspan>LL<tspan class="b">KK</tspan>QLNQY<tspan class="b">K</tspan><tspan>D</tspan><tspan class="b">K</tspan>LQAIYTSQ<tspan>EE</tspan><tspan class="b">R</tspan>SC<tspan class="b">R</tspan>F<tspan>E</tspan>T<tspan class="b">K</tspan>IY<tspan class="b">K</tspan>L<tspan class="b">K</tspan>TNQ<tspan>D</tspan>SLWS<tspan class="b">K</tspan>LQQI<tspan class="b">RR</tspan><tspan>D</tspan>LQV<tspan class="b">R</tspan>LQ-PP<tspan class="b">R</tspan>PSSSSFQSVGT<tspan class="b">K</tspan>VGHSST<tspan>E</tspan><tspan class="b">K</tspan>VP<tspan class="b">KR</tspan>G-<tspan>D</tspan>YLQI<tspan class="b">K</tspan>NAT<tspan>ED</tspan>AS<tspan class="b">R</tspan>W<tspan>E</tspan>PLPNP<tspan>DE</tspan>V<tspan>D</tspan><tspan class="b">R</tspan>SH<tspan class="b">R</tspan>SHTNA<tspan>E</tspan>HVL<tspan class="b">R</tspan>NS<tspan>E</tspan>SP<tspan>E</tspan></text>
<text class="s" x="94.5" y="567.3" textLength="1091" lengthAdjust="spacing">-<tspan class="b">K</tspan>APGYASS<tspan class="b">RR</tspan>AV<tspan>E</tspan>TAATG---VLCQ<tspan class="b">R</tspan>---PSPALQGNHN<tspan class="b">R</tspan>HGQTIVNI<tspan class="b">K</tspan>N<tspan>E</tspan>LW<tspan class="b">R</tspan>T<tspan class="b">R</tspan><tspan>D</tspan>SLNTLL<tspan class="b">R</tspan><tspan>E</tspan><tspan class="b">RR</tspan>LL<tspan class="b">RK</tspan>QLH<tspan class="b">R</tspan>Y<tspan class="b">K</tspan>Q<tspan class="b">K</tspan>LQGTYALQ<tspan>EE</tspan>QNC<tspan class="b">R</tspan>F<tspan>E</tspan>T<tspan class="b">K</tspan>I<tspan class="b">R</tspan><tspan>E</tspan>LTTNQ<tspan>D</tspan>NLWT<tspan class="b">K</tspan>LQQM<tspan class="b">RR</tspan><tspan>D</tspan>LQAMLQ-PLHPSSSPQTTAS<tspan class="b">K</tspan>IFHSLP<tspan>DD</tspan>GI<tspan class="b">RR</tspan>GG-<tspan>D</tspan>SSHI<tspan class="b">KR</tspan>VT<tspan class="b">R</tspan><tspan>D</tspan>GP<tspan>E</tspan>W<tspan>E</tspan>LLPNSA<tspan class="b">K</tspan>V<tspan>D</tspan><tspan class="b">RK</tspan>H<tspan class="b">K</tspan>CQASSG<tspan class="b">K</tspan>ALP<tspan>D</tspan>S<tspan>E</tspan>PQ<tspan>E</tspan></text>
<text class="s" x="94.5" y="578.4" textLength="1091" lengthAdjust="spacing">-<tspan class="b">K</tspan>TPVYASSAGAV<tspan>E</tspan>TAAT<tspan>E</tspan><tspan class="b">R</tspan>T<tspan class="b">R</tspan>FLCQ<tspan class="b">R</tspan>---SSPALQAI<tspan>D</tspan>SPH<tspan class="b">R</tspan>QTVVNI<tspan class="b">K</tspan>N<tspan>E</tspan>LW<tspan class="b">R</tspan>T<tspan class="b">R</tspan><tspan>D</tspan>SVNALH<tspan class="b">R</tspan><tspan>EE</tspan><tspan class="b">RR</tspan>FL<tspan class="b">RK</tspan>QLQ<tspan class="b">R</tspan>Y<tspan class="b">K</tspan>H<tspan class="b">K</tspan>LQGTYTLQ<tspan>E</tspan>NQNC<tspan class="b">R</tspan>F<tspan>E</tspan>T<tspan class="b">K</tspan>I<tspan class="b">R</tspan><tspan>E</tspan>LTINQ<tspan>D</tspan>NLWT<tspan class="b">K</tspan>LQQM<tspan class="b">RR</tspan><tspan>D</tspan>LQAMLQ-PP<tspan class="b">R</tspan>PSS-PQTTVL<tspan class="b">K</tspan>IVHSLP<tspan>DD</tspan>GLW<tspan class="b">R</tspan>GG-NSSHI<tspan class="b">K</tspan>SVT<tspan class="b">R</tspan><tspan>D</tspan>SP<tspan>E</tspan>W<tspan>E</tspan>PLPNSA<tspan class="b">K</tspan>VN<tspan class="b">RK</tspan>H<tspan class="b">K</tspan>CQASSG<tspan class="b">K</tspan>VPP<tspan>D</tspan>S<tspan>E</tspan>SP<tspan>E</tspan></text>
<text class="s" x="94.5" y="589.5" textLength="1091" lengthAdjust="spacing"><tspan class="b">R</tspan><tspan>E</tspan>NLSLPVNNPIL<tspan>E</tspan>SP<tspan class="b">K</tspan>FTS<tspan class="b">K</tspan>N<tspan class="b">R</tspan>TVLH<tspan class="b">K</tspan>N<tspan>D</tspan>NNS<tspan class="b">K</tspan>IL<tspan>E</tspan>QG<tspan class="b">K</tspan>T<tspan class="b">K</tspan>IQA<tspan>E</tspan>SSF<tspan>E</tspan>A<tspan>D</tspan>VL<tspan class="b">K</tspan>MHGSI<tspan class="b">K</tspan>SIHN<tspan class="b">K</tspan>L<tspan class="b">R</tspan>YM<tspan class="b">KK</tspan>QLN<tspan class="b">K</tspan>W<tspan class="b">K</tspan>H<tspan class="b">K</tspan>MQFL<tspan>E</tspan>NCQ<tspan>ED</tspan><tspan class="b">K</tspan>SF<tspan class="b">K</tspan>I<tspan>E</tspan>AL<tspan class="b">K</tspan>QSL<tspan class="b">R</tspan>ASH<tspan>E</tspan>NLQM<tspan>E</tspan>LC<tspan class="b">K</tspan>M<tspan class="b">K</tspan>Q<tspan>E</tspan>V<tspan class="b">R</tspan>TVQSTAHPSFSLCNMIPG<tspan>D</tspan>NVLQS<tspan>E</tspan><tspan class="b">K</tspan>MQGGLNPVQI<tspan class="b">K</tspan>PIS<tspan class="b">R</tspan>TSS<tspan>D</tspan>W<tspan class="b">K</tspan>ALN<tspan class="b">K</tspan>VNSAN<tspan class="b">R</tspan>IQAL<tspan>EE</tspan>S<tspan>E</tspan>APATV<tspan>D</tspan>IMFS<tspan>E</tspan></text>
<text class="s" x="94.5" y="600.6" textLength="1091" lengthAdjust="spacing"><tspan class="g">------------</tspan><tspan>D</tspan>AAA<tspan>E</tspan>ASQTAAPAAVTV<tspan>E</tspan>S<tspan class="b">K</tspan>SLQT<tspan>EE</tspan>IQIPQ<tspan class="b">R</tspan>TLAQL<tspan class="b">K</tspan><tspan>D</tspan>ISVTQ<tspan class="b">K</tspan>AM<tspan class="b">R</tspan><tspan>D</tspan>LQ<tspan class="b">R</tspan><tspan>D</tspan><tspan class="b">K</tspan>WLL<tspan>E</tspan><tspan class="b">K</tspan><tspan>E</tspan>FQVW<tspan class="b">R</tspan>VAAQS<tspan>E</tspan>H<tspan>D</tspan>SL<tspan>ED</tspan><tspan class="b">K</tspan>CS<tspan>E</tspan>L<tspan class="b">K</tspan>SMM<tspan>E</tspan>TLNQHNQHL<tspan>EEE</tspan>L<tspan>D</tspan>TV<tspan class="b">R</tspan>HLLL<tspan class="b">R</tspan>A<tspan class="b">K</tspan>-<tspan class="b">K</tspan><tspan>EE</tspan>L<tspan class="b">K</tspan>TSHSNLQL<tspan>E</tspan>Q<tspan>D</tspan>GSIN<tspan>E</tspan>NNWTQPGLL<tspan class="b">K</tspan>PH<tspan>E</tspan>SSST<tspan>E</tspan>HV<tspan>EE</tspan><tspan class="b">R</tspan>GT<tspan class="b">R</tspan>Q<tspan>E</tspan><tspan class="b">RR</tspan>F<tspan>EEEED</tspan>TLY<tspan>D</tspan>LS<tspan>ED</tspan>ISTNL<tspan>DD</tspan>S</text>
</g>
<g id="block4">
<text class="n" x="727" y="627.5">15</text>
<text class="l" x="48" y="644.7">Human Dyt</text>
<text class="l" x="48" y="655.8">Chimp Dyt</text>
<text class="l" x="48" y="666.9">Rhesus Dyt</text>
<text class="l" x="48" y="678">Mouse Dyt</text>
<text class="l" x="48" y="689.1">Rat Dyt</text>
<text class="l" x="48" y="700.2">Chick Dyt</text>
<text class="l" x="48" y="711.3">Zebraf Dyt</text>
<text class="l" x="48" y="722.4">Hum Dys</text>
<text class="l" x="48" y="733.5">Hum αDyb</text>
<text class="s" x="94.5" y="644.7">TTLH-----ST<tspan class="b">R</tspan>AQSQTQ<tspan class="b">K</tspan>MPQ<tspan class="b">K</tspan>VISALPSYQ<tspan>E</tspan>GL<tspan class="b">K</tspan>Q<tspan>D</tspan>IP<tspan class="b">K</tspan>MVPA<tspan>E</tspan>MSSPALAAV<tspan>E</tspan><tspan class="b">KK</tspan><tspan>E</tspan>AGNI<tspan class="b">K</tspan><tspan>E</tspan><tspan class="b">RK</tspan><tspan>DE</tspan>L<tspan>EEEE</tspan>LQ<tspan>E</tspan>LLS<tspan class="b">K</tspan>LM<tspan>D</tspan>AFNL<tspan>E</tspan>TPSGP<tspan>E</tspan>SSVNM<tspan>D</tspan>LYSGAQ<tspan class="b">R</tspan>VC<tspan class="b">R</tspan>AFSALV<tspan>D</tspan>QIALPNL<tspan class="b">K</tspan>*<tspan class="g">--------------</tspan></text>
<text class="s" x="94.5" y="655.8">TTLH-----ST<tspan class="b">R</tspan>AQSQTQ<tspan class="b">K</tspan>MP<tspan class="b">KK</tspan>VISALPSYQ<tspan>E</tspan>GL<tspan class="b">K</tspan>Q<tspan>D</tspan>IP<tspan class="b">K</tspan>MVPA<tspan>E</tspan>MSSSALAAV<tspan>E</tspan><tspan class="b">KK</tspan><tspan>E</tspan>AGNI<tspan class="b">K</tspan><tspan>E</tspan><tspan class="b">RK</tspan><tspan>DE</tspan>L<tspan>EEEE</tspan>LQ<tspan>E</tspan>LLS<tspan class="b">K</tspan>LM<tspan>D</tspan>AFNL<tspan>E</tspan>TPSGP<tspan>E</tspan>SSVNM<tspan>D</tspan>LYSGAQ<tspan class="b">R</tspan>VC<tspan class="b">R</tspan>AFSALV<tspan>D</tspan>QIALPNL<tspan class="b">K</tspan>*<tspan class="g">--------------</tspan></text>
<text class="s" x="94.5" y="666.9">TTLH-----ST<tspan class="b">R</tspan>AQSQTQ<tspan class="b">K</tspan>ML<tspan class="b">RK</tspan>VISALPSCQ<tspan>E</tspan>GL<tspan class="b">K</tspan>Q<tspan>D</tspan>TP<tspan class="b">K</tspan>MIPA<tspan>E</tspan><tspan class="b">R</tspan>SSPALATM<tspan>E</tspan><tspan class="b">KK</tspan>AAGNI<tspan class="b">K</tspan><tspan>E</tspan><tspan class="b">RK</tspan><tspan>DE</tspan>L<tspan>EEEE</tspan>LQ<tspan>E</tspan>LLS<tspan class="b">K</tspan>LM<tspan>D</tspan>AFNL<tspan>E</tspan>MPSGP<tspan>E</tspan>SSVNM<tspan>D</tspan>LYSGAQQVC<tspan class="b">R</tspan>AFSALV<tspan>D</tspan>QITLPNL<tspan class="b">K</tspan>*<tspan class="g">--------------</tspan></text>
<text class="s" x="94.5" y="678">IILQ-----ST<tspan class="b">RK</tspan>QNHPQ<tspan class="b">K</tspan>MLS<tspan class="b">K</tspan>VHSS-PSAHQ---Q<tspan>D</tspan>TLQIPPT<tspan>E</tspan>V<tspan class="b">K</tspan>IPAQTLSAG<tspan class="b">K</tspan><tspan>E</tspan>M<tspan>E</tspan>SCS<tspan>E</tspan><tspan class="b">KR</tspan>NNL<tspan>EDEE</tspan>LQALLP<tspan class="b">R</tspan>LL<tspan>D</tspan>AF<tspan>D</tspan>L<tspan>D</tspan>SPTGLQPLN<tspan>D</tspan>M<tspan>E</tspan>LYG<tspan class="b">R</tspan>AQQVC<tspan class="b">R</tspan>AFSVLV<tspan>D</tspan>QITLPTWS<tspan>EEE</tspan>S<tspan class="b">R</tspan>L<tspan class="b">K</tspan>GPLV*<tspan class="g">--</tspan></text>
<text class="s" x="94.5" y="689.1">IIFQ-----STS<tspan class="b">K</tspan>QSHPQ<tspan class="b">K</tspan>MP<tspan class="b">R</tspan><tspan>E</tspan>VHSS-PSA<tspan class="b">R</tspan>Q<tspan>EE</tspan>LQ<tspan>D</tspan>SLQIPPT<tspan>E</tspan>VSSPTQTP--G<tspan class="b">K</tspan><tspan>E</tspan>M<tspan>D</tspan>CFS<tspan>E</tspan><tspan class="b">KR</tspan>N<tspan>D</tspan>L<tspan>EDEE</tspan>LQ<tspan>E</tspan>LLP<tspan class="b">R</tspan>LL<tspan>D</tspan>AFSL<tspan>D</tspan>SSTGPQPLV<tspan>D</tspan>V<tspan>E</tspan>LYG<tspan class="b">R</tspan>A<tspan>E</tspan>QVC<tspan class="b">R</tspan>AFSALV<tspan>D</tspan>QVTLPSL<tspan>E</tspan>*<tspan class="g">--------------</tspan></text>
<text class="s" x="94.5" y="700.2"><tspan>D</tspan>PV<tspan class="b">K</tspan>-------SVTLQS<tspan>D</tspan><tspan class="b">R</tspan>VFMGQP<tspan class="b">KK</tspan>I<tspan class="b">K</tspan><tspan>D</tspan>NHTYLP<tspan>E</tspan>LM<tspan>E</tspan>NY<tspan>D</tspan>SGTI<tspan class="b">R</tspan>NTALTP---AAIQVPS<tspan>D</tspan><tspan class="b">K</tspan>T<tspan>E</tspan>PC<tspan>DE</tspan>V<tspan>E</tspan>LQQLVM<tspan class="b">K</tspan>LM<tspan>D</tspan>ALSLQAQ<tspan>ED</tspan>QQSAL<tspan class="b">K</tspan>QHFFSTA<tspan>E</tspan><tspan class="b">R</tspan>VC<tspan class="b">R</tspan>SFS<tspan>D</tspan>LINHVTASL<tspan>E</tspan>VT<tspan>E</tspan>NGIHLTAPLNY*</text>
<text class="s" x="94.5" y="711.3"><tspan>E</tspan>SILPQ<tspan>D</tspan>VHTALAQ<tspan class="b">R</tspan><tspan>EEEE</tspan>LQ<tspan>EEEE</tspan>GLH<tspan>E</tspan><tspan class="b">K</tspan><tspan>EE</tspan>GLPT<tspan>EEEE</tspan>LQH<tspan>D</tspan><tspan class="b">R</tspan>Q<tspan>D</tspan>PSFF<tspan class="b">R</tspan>GCMS<tspan>D</tspan>FAP<tspan>D</tspan>GHS<tspan>DD</tspan>S<tspan>E</tspan>M<tspan>DDEED</tspan>LC<tspan>E</tspan>LVQ<tspan class="b">R</tspan>L<tspan class="b">R</tspan>N<tspan>E</tspan>LSLYTASGSVCLQ<tspan class="b">K</tspan><tspan>E</tspan>MLMTAA<tspan>E</tspan>GV<tspan class="b">R</tspan><tspan>D</tspan>SVSHLVTSV<tspan class="b">K</tspan>SSSLA*<tspan class="g">--------------</tspan></text>
<text class="s" x="94.5" y="722.4"><tspan class="g">------------&lt;146&gt;-----------------------------------</tspan><tspan>D</tspan>A<tspan>E</tspan>LIA<tspan>E</tspan>A<tspan class="b">K</tspan>LL<tspan class="b">R</tspan>QH<tspan class="b">K</tspan>G<tspan class="b">R</tspan>L<tspan>E</tspan>A<tspan class="b">R</tspan>MQIL<tspan>ED</tspan>HN<tspan class="b">K</tspan>QL<tspan>E</tspan>SQLH<tspan class="b">R</tspan>L<tspan class="b">R</tspan>QLL<tspan>E</tspan>Q<tspan class="g">------------------&lt;86&gt;-----------------------</tspan></text>
<text class="s" x="94.5" y="733.5"><tspan class="g">------------&lt;173&gt;-----------------------------------</tspan>NPTLS<tspan>E</tspan>L<tspan class="b">R</tspan>LL<tspan class="b">R</tspan>Q<tspan class="b">RK</tspan><tspan>DE</tspan>L<tspan>E</tspan>Q<tspan class="b">R</tspan>MSALQ<tspan>E</tspan>S<tspan class="b">RR</tspan><tspan>E</tspan>LMVQL<tspan>E</tspan>GLM<tspan class="b">K</tspan>LL<tspan class="b">K</tspan><tspan class="g">--------------------&lt;189&gt;----------------------</tspan></text>
</g>
<g id="dividers">
<line class="dv" x1="372" y1="192" x2="372" y2="272"/>
<line class="dv" x1="518" y1="192" x2="518" y2="272"/>
<line class="dv" x1="896" y1="192" x2="896" y2="272"/>
<line class="dv" x1="1052" y1="192" x2="1052" y2="272"/>
<line class="dv" x1="148" y1="359" x2="148" y2="495"/>
<line class="dv" x1="289" y1="359" x2="289" y2="495"/>
<line class="dv" x1="633" y1="359" x2="633" y2="420"/>
<line class="dv" x1="841" y1="357" x2="841" y2="449"/>
<line class="dv" x1="1113" y1="359" x2="1113" y2="438"/>
<line class="dv" x1="334" y1="521" x2="334" y2="605"/>
<line class="dv" x1="753" y1="519" x2="753" y2="605"/>
<line class="dv" x1="596" y1="635" x2="596" y2="716"/>
</g>
<g id="legend">
<rect class="ef" x="911" y="638" width="44" height="21"/>
<rect class="zz" x="911" y="670" width="44" height="21"/>
<rect class="cc" x="911" y="702" width="44" height="21"/>
<text class="lg" x="965" y="653">EF-Hands</text>
<text class="lg" x="965" y="685">ZZ Domain</text>
<text class="lg" x="965" y="717">Coiled coil</text>
</g>
</svg>
